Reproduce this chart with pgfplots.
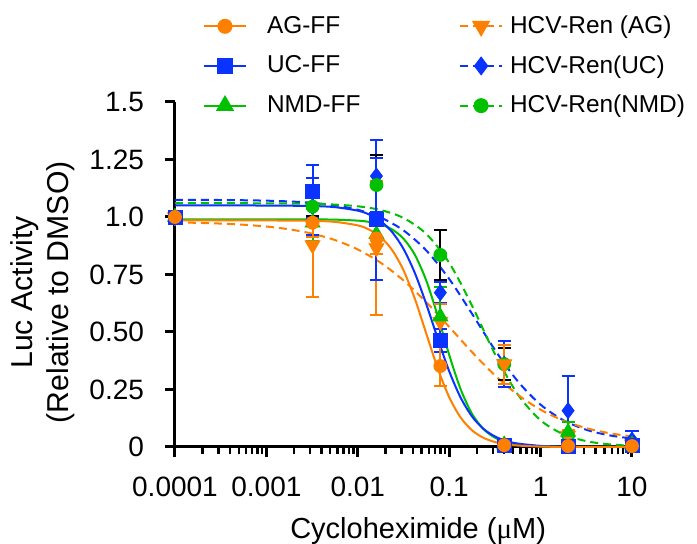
\documentclass[border=0pt]{standalone}
\usepackage{fontspec}
\setmainfont{Liberation Sans}
\newfontfamily\serifmu{Liberation Serif}
\usepackage{pgfplots}
\usepackage{pgfplotstable}
\pgfplotsset{compat=1.18}
\definecolor{agc}{HTML}{FF7F00}
\definecolor{ucc}{HTML}{0A33FF}
\definecolor{nmdc}{HTML}{00C000}

% fitted curves
\pgfplotstableread{
x        agff    ucff    nmdff
0.0001   0.985   1.050   0.990
0.000316 0.985   1.050   0.990
0.001    0.985   1.0498  0.990
0.00316  0.9832  1.0477  0.9896
0.00562  0.9788  1.0428  0.9885
0.01     0.9634  1.0275  0.9842
0.01334  0.9451  1.0107  0.9786
0.01778  0.9125  0.9820  0.9674
0.02371  0.8568  0.9350  0.9460
0.03162  0.7684  0.8615  0.9058
0.04217  0.6434  0.7559  0.8352
0.05623  0.4925  0.6206  0.7227
0.07499  0.3415  0.4709  0.5696
0.1      0.2166  0.3294  0.4005
0.1334   0.1282  0.2147  0.2514
0.1778   0.0725  0.1326  0.1443
0.2371   0.0399  0.0789  0.0780
0.3162   0.0216  0.0459  0.0407
0.4217   0.0116  0.0263  0.0208
0.5623   0.0062  0.0150  0.0105
1        0.0018  0.0048  0.0027
1.778    0.0005  0.0015  0.0007
3.162    0.0001  0.0005  0.0002
10       0       0       0
}\solidfits

\pgfplotstableread{
x        renag   renuc   rennmd
0.0001   0.9765  1.0746  1.0600
0.000178 0.9745  1.0743  1.0600
0.000316 0.9713  1.0738  1.0599
0.000562 0.9663  1.0728  1.0598
0.001    0.9585  1.0710  1.0595
0.00178  0.9464  1.0676  1.0588
0.00316  0.9278  1.0616  1.0573
0.00562  0.8998  1.0507  1.0539
0.01     0.8588  1.0314  1.0465
0.01778  0.8011  0.9977  1.0303
0.03162  0.7243  0.9418  0.9957
0.05623  0.6293  0.8542  0.9262
0.1      0.5221  0.7308  0.8009
0.1778   0.4126  0.5793  0.6147
0.3162   0.3117  0.4224  0.4043
0.5623   0.2273  0.2859  0.2289
1        0.1621  0.1840  0.1161
1.778    0.1149  0.1164  0.0552
3.162    0.0821  0.0749  0.0254
5.623    0.0602  0.0508  0.0115
10       0.0457  0.0370  0.0052
}\dashedfits

\pgfplotsset{
  errs/.style={error bars/.cd, y dir=both, y explicit,
    error bar style={line width=1pt, solid, #1},
    error mark options={rotate=90, mark size=3.3pt, line width=1pt, solid, #1}},
  dsh/.style={dash pattern=on 4pt off 2.5pt},
}

\begin{document}
\begin{tikzpicture}
\begin{axis}[
  name=ax,
  scale only axis,
  width=228.5pt, height=172.5pt,
  xmode=log,
  xmin=1e-4, xmax=10, ymin=0, ymax=1.5,
  axis lines=left,
  axis line style={-, line width=1.5pt},
  xtick={1e-4,1e-3,1e-2,1e-1,1,10},
  xticklabels={0.0001,0.001,0.01,0.1,1,10},
  minor xtick={2e-4,3e-4,4e-4,5e-4,6e-4,7e-4,8e-4,9e-4,
               2e-3,3e-3,4e-3,5e-3,6e-3,7e-3,8e-3,9e-3,
               0.02,0.03,0.04,0.05,0.06,0.07,0.08,0.09,
               0.2,0.3,0.4,0.5,0.6,0.7,0.8,0.9,
               2,3,4,5,6,7,8,9},
  ytick={0,0.25,0.5,0.75,1,1.25,1.5},
  yticklabels={0,0.25,0.50,0.75,1.0,1.25,1.5},
  tick align=outside,
  major tick length=5pt, minor tick length=3.5pt,
  tick style={line width=1.5pt, black},
  minor tick style={line width=1.2pt},
  /pgf/number format/assume math mode=true,
  tick label style={font=\fontsize{14}{16}\selectfont},
  xticklabel style={yshift=-6.5pt},
  yticklabel style={xshift=-7pt},
  xlabel={Cycloheximide ({\serifmu μ}M)},
  xlabel style={font=\fontsize{14.5}{17}\selectfont,
    at={(axis description cs:0.532,-0.264)}, anchor=base},
  ylabel={Luc Activity\\(Relative to DMSO)},
  ylabel style={font=\fontsize{15.1}{18}\selectfont, align=center,
    at={(axis description cs:-0.203,0.4485)}, anchor=south},
  clip=false,
  legend style={draw=none, fill=none, font=\fontsize{12.2}{14}\selectfont,
    inner sep=0pt, outer sep=0pt,
    at={(axis description cs:0.0613,1.261)}, anchor=north west,
    row sep=5.5pt,
    /tikz/column 1/.style={column sep=8pt},
    /tikz/column 2/.style={column sep=47.3pt},
    /tikz/column 3/.style={column sep=1.5pt}},
  legend cell align=left,
  legend columns=2,
  legend image code/.code={\draw[mark repeat=2,mark phase=2,#1]
     plot coordinates {(0pt,0pt) (10.5pt,0pt) (21pt,0pt)};},
]
\addlegendimage{agc, line width=1pt, mark=*, mark size=3.25pt}
\addlegendentry{AG-FF}
\addlegendimage{agc, line width=1pt, dsh, mark=triangle*, mark size=4.3pt, mark options={solid, rotate=180}}
\addlegendentry{HCV-Ren (AG)}
\addlegendimage{ucc, line width=1pt, mark=square*, mark size=3.5pt}
\addlegendentry{UC-FF}
\addlegendimage{ucc, line width=1pt, dsh, mark=diamond*, mark size=4pt, mark options={solid}}
\addlegendentry{HCV-Ren(UC)}
\addlegendimage{nmdc, line width=1pt, mark=triangle*, mark size=4.3pt}
\addlegendentry{NMD-FF}
\addlegendimage{nmdc, line width=1pt, dsh, mark=*, mark size=3.25pt, mark options={solid}}
\addlegendentry{HCV-Ren(NMD)}

% curves
\addplot[forget plot, ucc, line width=1pt, dsh, smooth] table[x=x, y=renuc] {\dashedfits};
\addplot[forget plot, nmdc, line width=1pt, dsh, smooth] table[x=x, y=rennmd] {\dashedfits};
\addplot[forget plot, agc, line width=1pt, dsh, smooth] table[x=x, y=renag] {\dashedfits};
\addplot[forget plot, nmdc, line width=1pt, smooth] table[x=x, y=nmdff] {\solidfits};
\addplot[forget plot, ucc, line width=1pt, smooth] table[x=x, y=ucff] {\solidfits};
\addplot[forget plot, agc, line width=1pt, smooth] table[x=x, y=agff] {\solidfits};

% data points
\addplot[forget plot, only marks, ucc, mark=diamond*, mark size=4pt, errs=ucc] coordinates {
  (0.0001,1) +- (0,0) (0.0032,1.045) +- (0,0.125) (0.016,1.178) +- (0,0.155)
  (0.08,0.671) +- (0,0.045) (0.4,0.36) +- (0,0.1) (2,0.158) +- (0,0.15) (10,0.03) +- (0,0.04)};
\addplot[forget plot, only marks, nmdc, mark=*, mark size=3.25pt, errs=black] coordinates {
  (0.0001,1) +- (0,0) (0.0032,1.045) +- (0,0.04) (0.016,1.139) +- (0,0.13)
  (0.08,0.835) +- (0,0.11) (0.4,0.36) +- (0,0.07) (2,0.05) +- (0,0.02) (10,0.01) +- (0,0.01)};
\addplot[forget plot, only marks, agc, mark=triangle*, mark size=4.3pt, mark options={rotate=180}, errs=agc] coordinates {
  (0.0001,1) +- (0,0) (0.0032,0.878) +- (0,0.225) (0.016,0.865) +- (0,0.29)
  (0.08,0.545) +- (0,0.075) (0.4,0.36) +- (0,0.085) (2,0.05) +- (0,0.025) (10,0.012) +- (0,0.01)};
\addplot[forget plot, only marks, nmdc, mark=triangle*, mark size=4.3pt, errs=nmdc] coordinates {
  (0.0001,1) +- (0,0) (0.0032,0.975) +- (0,0.08) (0.016,0.925) +- (0,0.05)
  (0.08,0.567) +- (0,0.13) (0.4,0.01) +- (0,0.01) (2,0.065) +- (0,0.045) (10,0.01) +- (0,0.01)};
\addplot[forget plot, only marks, ucc, mark=square*, mark size=3.5pt, errs=ucc] coordinates {
  (0.0001,1) +- (0,0) (0.0032,1.11) +- (0,0.115) (0.016,0.99) +- (0,0.265)
  (0.08,0.465) +- (0,0.05) (0.4,0.006) +- (0,0.005) (2,0.004) +- (0,0) (10,0.006) +- (0,0)};
\addplot[forget plot, only marks, agc, mark=*, mark size=3.25pt, errs=agc] coordinates {
  (0.0001,1) +- (0,0) (0.0032,0.975) +- (0,0.06) (0.016,0.907) +- (0,0.07)
  (0.08,0.352) +- (0,0.085) (0.4,0.008) +- (0,0.008) (2,0.004) +- (0,0) (10,0.004) +- (0,0)};
\end{axis}
% fix the page frame to the reference margins around the axis
\pgfresetboundingbox
\path ([xshift=-87.5pt,yshift=-48.5pt]ax.south west) rectangle ([xshift=32.5pt,yshift=51pt]ax.north east);
\end{tikzpicture}
\end{document}
